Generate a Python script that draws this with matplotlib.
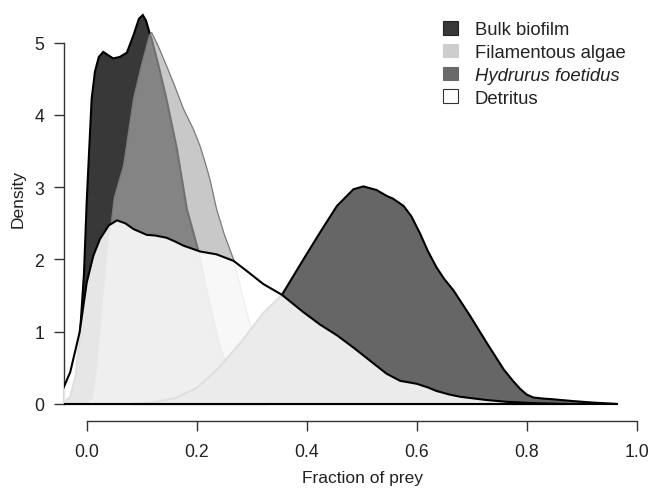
import matplotlib
matplotlib.use("Agg")
import matplotlib.pyplot as plt
from matplotlib.colors import to_rgba
from matplotlib.patches import Patch

plt.rcParams['font.family'] = ['Liberation Sans', 'DejaVu Sans']

# density curves
bulk_x = [-0.045, -0.03, -0.02, -0.012, -0.005, 0.0, 0.005, 0.009, 0.015, 0.022, 0.030, 0.040,
          0.048, 0.060, 0.073, 0.085, 0.095, 0.102, 0.108, 0.114, 0.118, 0.130, 0.145, 0.164,
          0.182, 0.203, 0.220, 0.240, 0.260, 0.280, 0.300, 0.330]
bulk_y = [0.0, 0.1, 0.4, 1.0, 1.8, 2.8, 3.6, 4.22, 4.6, 4.8, 4.87, 4.82,
          4.78, 4.80, 4.86, 5.1, 5.33, 5.38, 5.3, 5.14, 5.05, 4.7, 4.22, 3.53,
          2.7, 2.12, 1.5, 0.85, 0.4, 0.15, 0.05, 0.0]

algae_x = [0.0, 0.012, 0.02, 0.03, 0.04, 0.05, 0.067, 0.085, 0.10, 0.114, 0.118, 0.13,
           0.145, 0.16, 0.176, 0.194, 0.206, 0.215, 0.224, 0.236, 0.25, 0.267, 0.28, 0.295,
           0.31, 0.33, 0.36, 0.40, 0.45]
algae_y = [0.0, 0.07, 0.5, 1.4, 2.2, 2.85, 3.30, 4.22, 4.7, 5.1, 5.14, 4.95,
           4.68, 4.4, 4.08, 3.80, 3.57, 3.35, 3.11, 2.70, 2.35, 2.0, 1.6, 1.15,
           0.8, 0.45, 0.2, 0.06, 0.0]

hydrurus_x = [0.08, 0.12, 0.16, 0.20, 0.24, 0.28, 0.32, 0.355, 0.394, 0.424, 0.455, 0.485,
              0.503, 0.527, 0.545, 0.557, 0.576, 0.59, 0.606, 0.62, 0.636, 0.65, 0.667, 0.697,
              0.727, 0.758, 0.775, 0.788, 0.80, 0.812, 0.83, 0.848, 0.885, 0.92, 0.966]
hydrurus_y = [0.0, 0.02, 0.08, 0.22, 0.5, 0.85, 1.25, 1.51, 2.0, 2.37, 2.74, 2.97,
              3.01, 2.96, 2.88, 2.84, 2.74, 2.6, 2.36, 2.12, 1.89, 1.73, 1.57, 1.22,
              0.85, 0.48, 0.32, 0.21, 0.13, 0.09, 0.075, 0.065, 0.04, 0.02, 0.0]

detritus_x = [-0.07, -0.055, -0.043, -0.03, -0.013, 0.0, 0.012, 0.024, 0.04, 0.055, 0.07, 0.085,
              0.109, 0.125, 0.145, 0.16, 0.176, 0.206, 0.236, 0.267, 0.291, 0.321, 0.355, 0.394,
              0.424, 0.455, 0.485, 0.515, 0.545, 0.57, 0.60, 0.62, 0.636, 0.66, 0.679, 0.727,
              0.764, 0.82, 0.87]
detritus_y = [0.0, 0.08, 0.21, 0.44, 0.99, 1.68, 2.05, 2.28, 2.47, 2.54, 2.5, 2.42,
              2.34, 2.33, 2.30, 2.25, 2.19, 2.11, 2.07, 1.98, 1.84, 1.66, 1.51, 1.27,
              1.10, 0.95, 0.78, 0.60, 0.42, 0.32, 0.28, 0.23, 0.18, 0.13, 0.10, 0.055,
              0.03, 0.01, 0.0]

labels = ['Bulk biofilm', 'Filamentous algae', 'Hydrurus foetidus', 'Detritus']
x_ticks = [0.0, 0.2, 0.4, 0.6, 0.8, 1.0]
y_ticks = [0, 1, 2, 3, 4, 5]

fig = plt.figure(figsize=(6.51, 4.89), dpi=100)
ax = fig.add_axes([64 / 651, 67.3 / 489, 587 / 651, 421.7 / 489])

ax.fill(bulk_x, bulk_y, facecolor='#383838', edgecolor='black', lw=1.5, zorder=1)
ax.fill(algae_x, algae_y, facecolor=to_rgba('#acacac', 0.66), edgecolor='#7a7a7a', lw=0.9, zorder=2)
ax.fill(hydrurus_x, hydrurus_y, facecolor='#666666', edgecolor='black', lw=1.5, zorder=3)
ax.fill(detritus_x, detritus_y, facecolor=to_rgba('white', 0.88), edgecolor='black', lw=1.5, zorder=4)

ax.set_xlim(-0.0413, 1.026)
ax.set_ylim(-0.231, 5.602)

for s in ['top', 'right']:
    ax.spines[s].set_visible(False)
ax.spines['left'].set_bounds(0, 5)
ax.spines['bottom'].set_bounds(0, 1)
for s in ['left', 'bottom']:
    ax.spines[s].set_color('#333333')
    ax.spines[s].set_linewidth(1.0)

ax.set_xticks(x_ticks)
ax.set_xticklabels(['%.1f' % v for v in x_ticks])
ax.set_yticks(y_ticks)
ax.tick_params(direction='out', length=7.2, width=1.0, color='#333333',
               labelsize=12.7, labelcolor='#222222')
ax.tick_params(axis='x', pad=9)
ax.tick_params(axis='y', pad=7)

ax.set_xlabel('Fraction of prey', fontsize=12.5, color='#222222')
ax.xaxis.set_label_coords((362.5 - 64) / 587, (421.7 - 471) / 421.7)
ax.set_ylabel('Density', fontsize=12.5, color='#222222')
ax.yaxis.set_label_coords((26 - 64) / 587, (421.7 - 199) / 421.7)

handles = [Patch(facecolor='#383838', edgecolor='#222222', lw=0.8),
           Patch(facecolor='#cdcdcd', edgecolor='#cdcdcd', lw=0.8),
           Patch(facecolor='#6a6a6a', edgecolor='#6a6a6a', lw=0.8),
           Patch(facecolor='white', edgecolor='#333333', lw=0.8)]
leg = ax.legend(handles, labels, loc='upper left', bbox_to_anchor=(443 / 651, 1 - 22 / 489),
                bbox_transform=fig.transFigure, frameon=False, fontsize=13.3,
                handlelength=0.81, handleheight=0.76, handletextpad=0.92,
                labelspacing=0.30, borderaxespad=0, borderpad=0)
leg.get_texts()[2].set_style('italic')
for t in leg.get_texts():
    t.set_color('#222222')

fig.savefig('out.png', dpi=100)
